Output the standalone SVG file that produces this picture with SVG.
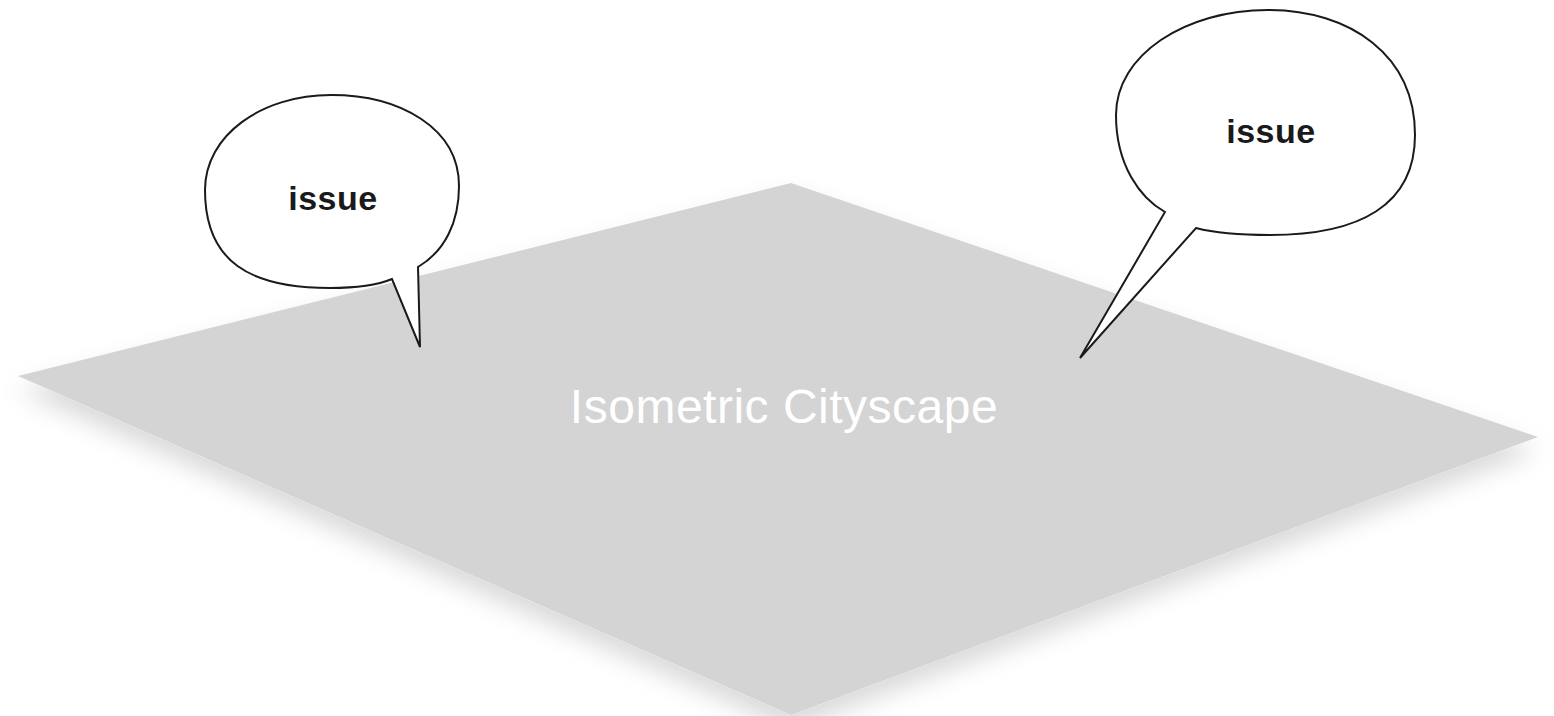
<svg xmlns="http://www.w3.org/2000/svg" width="1554" height="716" viewBox="0 0 1554 716">
<defs>
<filter id="shadow" x="-10%" y="-10%" width="120%" height="130%">
<feDropShadow dx="0" dy="14" stdDeviation="12" flood-color="#000" flood-opacity="0.15"/>
</filter>
<style>
.bubble{fill:#fff;stroke:#1a1a1a;stroke-width:2;stroke-linejoin:miter}
.btext{font-family:"Liberation Sans",Arial,sans-serif;font-size:34px;font-weight:bold;fill:#1a1a1a;text-anchor:middle;letter-spacing:0.5px}
.ptext{font-family:"Liberation Sans",Arial,sans-serif;font-size:48px;fill:#fff;text-anchor:middle;letter-spacing:0.5px}
</style>
</defs>
<rect width="1554" height="716" fill="#fff"/>
<g id="plane">
<polygon points="791,183 1538,437 791,715 18,376" fill="#d4d4d4" filter="url(#shadow)"/>
<text class="ptext" x="784" y="423">Isometric Cityscape</text>
</g>
<g id="connectors"></g>
<g id="issue-left">
<path class="bubble" d="M418,267 C445,251 459,222 459,186 C459,128 400,95 331,95 C262,95 205,135 205,190 C205,262 250,288 330,288 C360,288 380,284 392,279 L420,347 Z"/>
<text class="btext" x="333" y="210">issue</text>
</g>
<g id="issue-right">
<path class="bubble" d="M1196,228 C1215,233 1240,235 1270,235 C1360,235 1415,205 1415,135 C1415,55 1350,10 1268,10 C1185,10 1116,55 1116,115 C1116,165 1140,198 1165,212 L1080,358 Z"/>
<text class="btext" x="1271" y="143">issue</text>
</g>
</svg>
